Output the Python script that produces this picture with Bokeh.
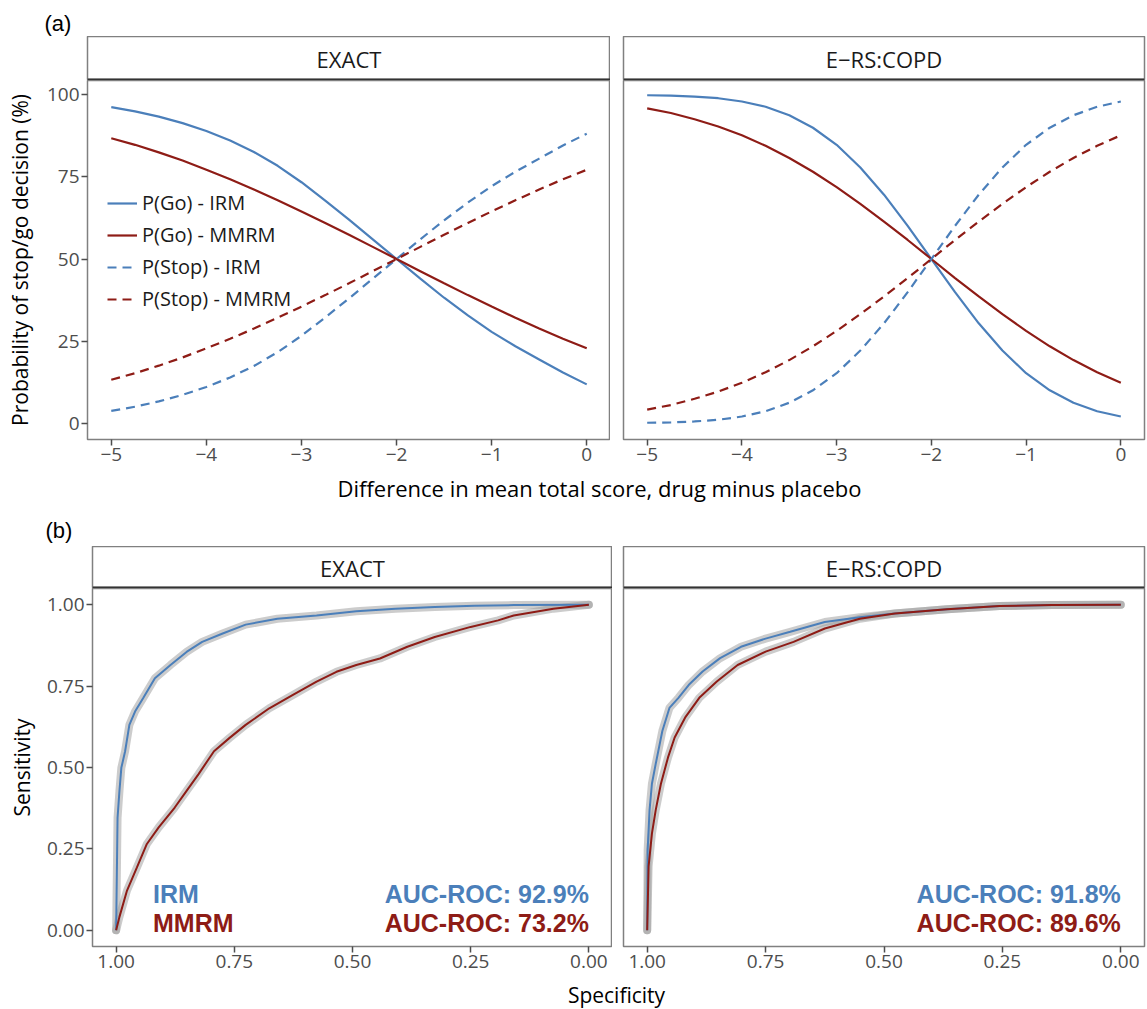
from bokeh.plotting import figure
from bokeh.layouts import column, row
from bokeh.models import Range1d, FixedTicker, Span, Legend, LegendItem, NumeralTickFormatter
from bokeh.core.properties import value
from bokeh.embed import file_html
from bokeh.resources import INLINE

# ---------------- data ----------------
panels = ["EXACT", "E\u2212RS:COPD"]
legend_labels = ["P(Go) - IRM", "P(Go) - MMRM", "P(Stop) - IRM", "P(Stop) - MMRM"]

x_diff = [-5.0, -4.75, -4.5, -4.25, -4.0, -3.75, -3.5, -3.25, -3.0, -2.75, -2.5,
          -2.25, -2.0, -1.75, -1.5, -1.25, -1.0, -0.75, -0.5, -0.25, 0.0]

exact_go_irm = [96.3, 95.0, 93.4, 91.4, 89.0, 86.1, 82.6, 78.4, 73.4, 67.8, 62.0,
                56.0, 50.0, 44.0, 38.2, 32.8, 27.8, 23.4, 19.4, 15.4, 11.8]
exact_go_mmrm = [86.8, 84.8, 82.5, 80.0, 77.2, 74.3, 71.2, 67.9, 64.5, 61.0, 57.4,
                 53.7, 50.0, 46.3, 42.6, 39.0, 35.5, 32.1, 28.8, 25.7, 22.8]
exact_stop_irm = [3.7, 5.0, 6.6, 8.6, 11.0, 13.9, 17.4, 21.6, 26.6, 32.2, 38.0,
                  44.0, 50.0, 56.0, 61.8, 67.2, 72.2, 76.6, 80.6, 84.6, 88.2]
exact_stop_mmrm = [13.2, 15.2, 17.5, 20.0, 22.8, 25.7, 28.8, 32.1, 35.5, 39.0, 42.6,
                   46.3, 50.0, 53.7, 57.4, 61.0, 64.5, 67.9, 71.2, 74.3, 77.2]

ers_go_irm = [99.9, 99.8, 99.5, 99.0, 98.0, 96.4, 93.8, 90.0, 84.8, 77.9, 69.6,
              60.1, 50.0, 39.9, 30.4, 22.1, 15.2, 10.0, 6.2, 3.6, 2.0]
ers_go_mmrm = [95.9, 94.5, 92.6, 90.4, 87.7, 84.5, 80.8, 76.6, 71.9, 66.8, 61.4,
               55.8, 50.0, 44.2, 38.6, 33.2, 28.1, 23.4, 19.2, 15.5, 12.3]
ers_stop_irm = [0.1, 0.2, 0.5, 1.0, 2.0, 3.6, 6.2, 10.0, 15.2, 22.1, 30.4,
                39.9, 50.0, 60.1, 69.6, 77.9, 84.8, 90.0, 93.8, 96.4, 98.0]
ers_stop_mmrm = [4.1, 5.5, 7.4, 9.6, 12.3, 15.5, 19.2, 23.4, 28.1, 33.2, 38.6,
                 44.2, 50.0, 55.8, 61.4, 66.8, 71.9, 76.6, 80.8, 84.5, 87.7]

# ROC curves (specificity, sensitivity)
exact_irm_spec = [1.0, 0.997, 0.993, 0.989, 0.981, 0.972, 0.960, 0.943, 0.918, 0.885, 0.851,
                  0.818, 0.776, 0.726, 0.659, 0.576, 0.492, 0.409, 0.326, 0.242, 0.159, 0.0]
exact_irm_sens = [0.0, 0.346, 0.428, 0.499, 0.550, 0.631, 0.672, 0.713, 0.774, 0.815, 0.855,
                  0.886, 0.911, 0.939, 0.957, 0.967, 0.980, 0.988, 0.993, 0.997, 0.999, 1.0]
exact_mmrm_spec = [1.0, 0.993, 0.977, 0.956, 0.935, 0.910, 0.876, 0.851, 0.826, 0.793, 0.760,
                   0.726, 0.676, 0.626, 0.576, 0.534, 0.492, 0.442, 0.384, 0.326, 0.250,
                   0.192, 0.159, 0.075, 0.0]
exact_mmrm_sens = [0.0, 0.041, 0.122, 0.193, 0.265, 0.316, 0.377, 0.428, 0.479, 0.550, 0.591,
                   0.631, 0.682, 0.723, 0.764, 0.794, 0.815, 0.835, 0.871, 0.901, 0.932,
                   0.952, 0.967, 0.988, 1.0]
ers_irm_spec = [1.0, 0.999, 0.995, 0.990, 0.982, 0.968, 0.953, 0.934, 0.912, 0.883, 0.846,
                0.802, 0.750, 0.698, 0.625, 0.551, 0.477, 0.367, 0.256, 0.145, 0.0]
ers_irm_sens = [0.0, 0.247, 0.369, 0.450, 0.511, 0.612, 0.683, 0.714, 0.754, 0.795, 0.836,
                0.871, 0.896, 0.917, 0.947, 0.962, 0.973, 0.986, 0.996, 0.999, 1.0]
ers_mmrm_spec = [1.0, 0.997, 0.990, 0.982, 0.971, 0.956, 0.942, 0.920, 0.890, 0.853, 0.809,
                 0.750, 0.691, 0.625, 0.551, 0.477, 0.367, 0.256, 0.145, 0.0]
ers_mmrm_sens = [0.0, 0.196, 0.297, 0.369, 0.450, 0.531, 0.592, 0.653, 0.714, 0.764, 0.815,
                 0.856, 0.886, 0.927, 0.957, 0.973, 0.986, 0.996, 0.999, 1.0]

auc_irm = ["92.9%", "91.8%"]
auc_mmrm = ["73.2%", "89.6%"]
model_labels = ["IRM", "MMRM"]

x_ticks_a = [-5, -4, -3, -2, -1, 0]
x_tick_labels_a = ["\u22125", "\u22124", "\u22123", "\u22122", "\u22121", "0"]
y_ticks_a = [0, 25, 50, 75, 100]
ticks_b = [0.0, 0.25, 0.5, 0.75, 1.0]

# ---------------- style ----------------
FONT = "Open Sans"
BFONT = "Liberation Sans"
BLUE = "#4B7FBA"
RED = "#8E1C16"
BORDER = "#808080"
TICKC = "#4D4D4D"
DASH = "9 6"
W = 1146


def blank_fig(h):
    f = figure(width=W, height=h, x_range=Range1d(0, W), y_range=Range1d(0, h),
               x_axis_type=None, y_axis_type=None, toolbar_location=None,
               output_backend="svg", min_border=0)
    f.outline_line_color = None
    return f


def strip_fig(label, bl, fw, br, fh):
    f = figure(frame_width=fw, frame_height=fh, min_border_left=bl, min_border_right=br,
               min_border_top=0, min_border_bottom=0, x_range=Range1d(0, 1), y_range=Range1d(0, 1),
               x_axis_type=None, y_axis_type=None, toolbar_location=None, output_backend="svg")
    f.outline_line_color = BORDER
    f.outline_line_width = 1.5
    f.text(x=[0.5], y=[0.5], text=[label], text_align="center", text_baseline="middle",
           text_font=value(FONT), text_font_size="22px", text_color="#1A1A1A")
    f.add_layout(Span(location=0, dimension="width", line_color="#333333", line_width=4))
    return f


def main_fig(bl, fw, br, fh, bb, xr, yr, yaxis=True):
    f = figure(frame_width=fw, frame_height=fh, min_border_left=bl, min_border_right=br,
               min_border_top=0, min_border_bottom=bb, x_range=xr, y_range=yr,
               toolbar_location=None, output_backend="svg",
               y_axis_location="left" if yaxis else None)
    f.outline_line_color = BORDER
    f.outline_line_width = 1.5
    f.grid.visible = False
    for ax in f.axis:
        ax.axis_line_color = None
        ax.major_tick_out = 6
        ax.major_tick_in = 0
        ax.major_tick_line_color = TICKC
        ax.major_tick_line_width = 1.5
        ax.minor_tick_line_color = None
        ax.major_label_text_font = FONT
        ax.major_label_text_font_size = "19px"
        ax.major_label_text_color = TICKC
        ax.major_label_standoff = 2
        ax.axis_label_text_font = FONT
        ax.axis_label_text_font_size = "21px"
        ax.axis_label_text_font_style = "normal"
        ax.axis_label_text_color = "#000000"
    return f


# ---------------- top row ----------------
header_a = blank_fig(36)
header_a.text(x=[44], y=[13], text=["(a)"], text_baseline="middle",
              text_font=value(BFONT), text_font_size="22px", text_color="#000000")

strip_tl = strip_fig(panels[0], 87, 523, 0, 44)
strip_tr = strip_fig(panels[1], 13, 521, 2, 44)

main_tl = main_fig(87, 523, 0, 359, 34, Range1d(-5.25, 0.25), Range1d(-5, 104.4))
main_tr = main_fig(13, 521, 2, 359, 34, Range1d(-5.25, 0.25), Range1d(-5, 104.4), yaxis=False)

series_a = [
    (exact_go_irm, ers_go_irm, BLUE, "solid"),
    (exact_go_mmrm, ers_go_mmrm, RED, "solid"),
    (exact_stop_irm, ers_stop_irm, BLUE, DASH),
    (exact_stop_mmrm, ers_stop_mmrm, RED, DASH),
]
items = []
for (ya, yb, col, dash), lab in zip(series_a, legend_labels):
    r = main_tl.line(x_diff, ya, line_color=col, line_width=2.2, line_dash=dash)
    main_tr.line(x_diff, yb, line_color=col, line_width=2.2, line_dash=dash)
    items.append(LegendItem(label=lab, renderers=[r]))

leg = Legend(items=items, location=(20, 127), glyph_width=30, glyph_height=26,
             label_height=26, spacing=5, padding=0, margin=0, label_standoff=5,
             border_line_color=None, background_fill_alpha=0,
             label_text_font=FONT, label_text_font_size="20px", label_text_color="#1A1A1A")
main_tl.add_layout(leg)

for f in (main_tl, main_tr):
    f.xaxis.ticker = FixedTicker(ticks=x_ticks_a)
    f.xaxis.major_label_overrides = dict(zip(x_ticks_a, x_tick_labels_a))
main_tl.yaxis.ticker = FixedTicker(ticks=y_ticks_a)
main_tl.yaxis.axis_label = "Probability of stop/go decision (%)"
main_tl.yaxis.axis_label_standoff = 10

xlabel_a = blank_fig(30)
xlabel_a.text(x=[599], y=[16], text=["Difference in mean total score, drug minus placebo"],
              text_align="center", text_baseline="middle",
              text_font=value(FONT), text_font_size="22px", text_color="#000000")

# ---------------- bottom row ----------------
header_b = blank_fig(43)
header_b.text(x=[45], y=[16], text=["(b)"], text_baseline="middle",
              text_font=value(BFONT), text_font_size="22px", text_color="#000000")

strip_bl = strip_fig(panels[0], 92, 520, 0, 42)
strip_br = strip_fig(panels[1], 11, 521, 2, 42)
main_bl = main_fig(92, 520, 0, 358, 34, Range1d(1.05, -0.05), Range1d(-0.05, 1.05))
main_br = main_fig(11, 521, 2, 358, 34, Range1d(1.05, -0.05), Range1d(-0.05, 1.05), yaxis=False)

roc = [
    (main_bl, exact_irm_spec, exact_irm_sens, exact_mmrm_spec, exact_mmrm_sens),
    (main_br, ers_irm_spec, ers_irm_sens, ers_mmrm_spec, ers_mmrm_sens),
]
for f, s1, e1, s2, e2 in roc:
    for s, e in ((s1, e1), (s2, e2)):
        f.line(s, e, line_color="#9A9A9A", line_alpha=0.5, line_width=8,
               line_join="round", line_cap="round")
    f.line(s1, e1, line_color=BLUE, line_width=2)
    f.line(s2, e2, line_color=RED, line_width=2)
    f.xaxis.ticker = FixedTicker(ticks=ticks_b)
    f.xaxis.formatter = NumeralTickFormatter(format="0.00")

main_bl.yaxis.ticker = FixedTicker(ticks=ticks_b)
main_bl.yaxis.formatter = NumeralTickFormatter(format="0.00")
main_bl.yaxis.axis_label = "Sensitivity"
main_bl.yaxis.axis_label_standoff = 8

for i, f in enumerate((main_bl, main_br)):
    f.text(x=[0.0], y=[0.110], text=["AUC-ROC: " + auc_irm[i]], text_align="right",
           text_baseline="middle", text_font=value(BFONT), text_font_style="bold",
           text_font_size="25px", text_color=BLUE)
    f.text(x=[0.0], y=[0.023], text=["AUC-ROC: " + auc_mmrm[i]], text_align="right",
           text_baseline="middle", text_font=value(BFONT), text_font_style="bold",
           text_font_size="25px", text_color=RED)
main_bl.text(x=[0.922, 0.922], y=[0.110, 0.023], text=model_labels, text_align="left",
             text_baseline="middle", text_font=value(BFONT), text_font_style="bold",
             text_font_size="25px", text_color=[BLUE, RED])

xlabel_b = blank_fig(29)
xlabel_b.text(x=[616], y=[14.5], text=["Specificity"], text_align="center", text_baseline="middle",
              text_font=value(FONT), text_font_size="21px", text_color="#000000")

layout = column(
    header_a,
    row(column(strip_tl, main_tl), column(strip_tr, main_tr)),
    xlabel_a,
    header_b,
    row(column(strip_bl, main_bl), column(strip_br, main_br)),
    xlabel_b,
)

open("out.html", "w").write(file_html(layout, INLINE))
